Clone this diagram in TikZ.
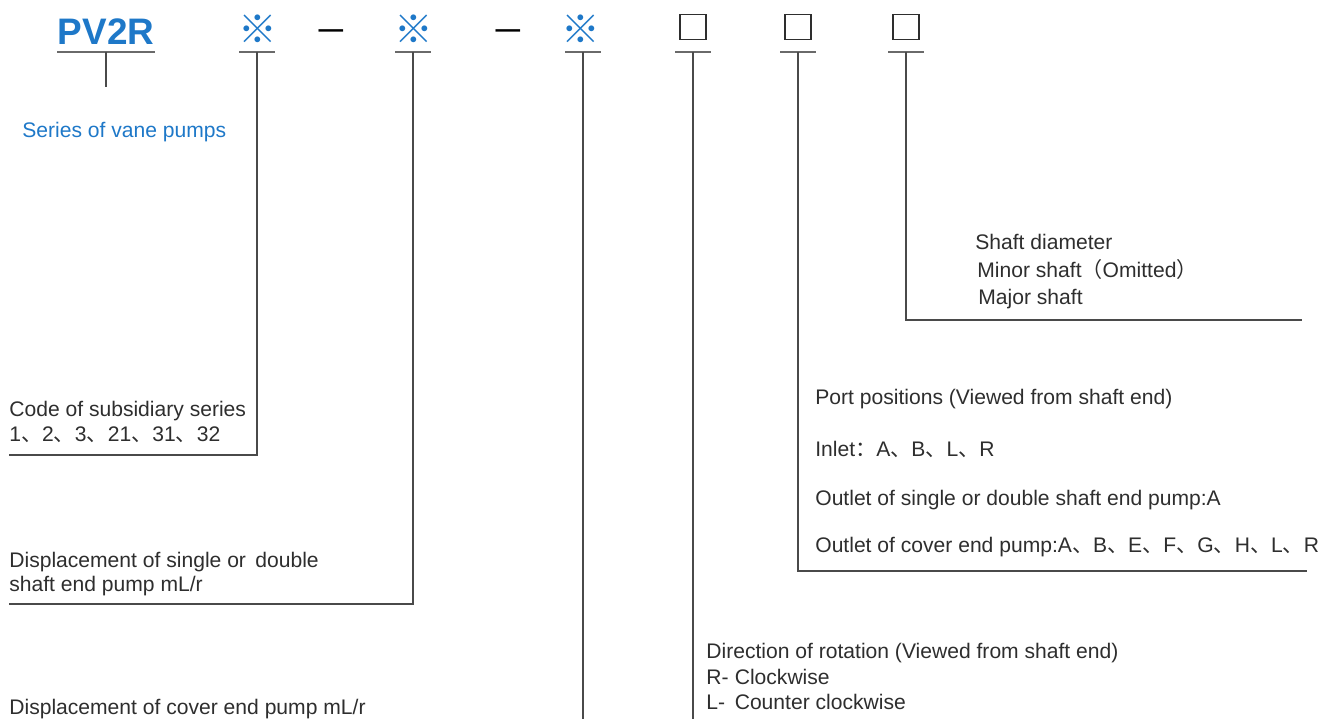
\documentclass[tikz,border=0pt]{standalone}
\usepackage{fontspec}
\setmainfont{Liberation Sans}
\newfontfamily\cjkfont{Noto Sans CJK SC}
\usetikzlibrary{positioning,calc}
\definecolor{pvBlue}{HTML}{1E78C8}
\definecolor{pvText}{HTML}{2E2E2E}
\definecolor{pvLine}{HTML}{4A4A4A}
\definecolor{pvBar}{HTML}{6A6A6A}
\newcommand{\dun}{{\cjkfont 、}}

\begin{document}
\begin{tikzpicture}[x=0.02cm, y=-0.02cm,
  codetxt/.style={inner sep=0pt, text=pvBlue},
  slotbox/.style={draw=pvText, line width=0.9pt, minimum width=0.53cm,
    minimum height=0.5cm, inner sep=0pt},
  codebar/.style={pvBar, line width=1.5pt},
  leader/.style={pvLine, line width=0.9pt},
  txt/.style={anchor=base west, inner sep=0pt, text=pvText,
    font=\fontsize{12}{14}\selectfont},
  bluetxt/.style={txt, text=pvBlue}]

\useasboundingbox (0,0) rectangle (1340,719);

% --- MODEL CODE ---
\node[codetxt, font=\fontsize{21}{24}\selectfont\bfseries] (pv) at (106,32) {PV2R};
\node[codetxt, font=\cjkfont\fontsize{22}{24}\selectfont] (subs) at (258,29) {※};
\node[codetxt, font=\cjkfont\fontsize{22}{24}\selectfont] (dispA) at (414,29) {※};
\node[codetxt, font=\cjkfont\fontsize{22}{24}\selectfont] (dispB) at (581,29) {※};
\node[inner sep=0pt, text=black, font=\fontsize{14}{16}\selectfont\bfseries] (dashA) at (331,34) {—};
\node[inner sep=0pt, text=black, font=\fontsize{14}{16}\selectfont\bfseries] (dashB) at (508,34) {—};
\node[slotbox] (rot) at (693,27) {};
\node[slotbox] (port) at (798,27) {};
\node[slotbox] (shaft) at (906,27) {};

% --- BARS UNDER EACH FIELD ---
\foreach \n/\xc/\hw in {pv/106/49, subs/257/18, dispA/413/18, dispB/583/18,
                       rot/693/18, port/798/18, shaft/906/18} {
  \draw[codebar] (\xc-\hw,52) -- (\xc+\hw,52);
  \coordinate (\n-bar) at (\xc,52);
}

% --- LEADER ENDS ---
\coordinate (pv-end) at (106,87);
\coordinate (subs-end) at (9,455);
\coordinate (dispA-end) at (9,604);
\coordinate (dispB-end) at (583,719);
\coordinate (rot-end) at (693,719);
\coordinate (port-end) at (1307,571);
\coordinate (shaft-end) at (1302,320);

\draw[leader] (pv-bar) -- (pv-end);
\draw[leader] (subs-bar) |- (subs-end);
\draw[leader] (dispA-bar) |- (dispA-end);
\draw[leader] (dispB-bar) -- (dispB-end);
\draw[leader] (rot-bar) -- (rot-end);
\draw[leader] (port-bar) |- (port-end);
\draw[leader] (shaft-bar) |- (shaft-end);

% --- LABELS ---
\node[bluetxt] (seriesLbl) at (22,138) {Series of vane pumps};

\node[txt] (subsLbl) at (9,417) {Code of subsidiary series};
\node[txt] (subsVal) at (9,442) {1\dun2\dun3\dun21\dun31\dun32};

\node[txt] (dispALbl) at (9,568) {Displacement of single or\ \,double};
\node[txt] (dispAVal) at (9,592) {shaft end pump mL/r};

\node[txt] (dispBLbl) at (9,714) {Displacement of cover end pump mL/r};

\node[txt] (rotLbl) at (706,659) {Direction of rotation (Viewed from shaft end)};
\node[txt] (rotR) at (706,684) {\makebox[1.35em][l]{R-}Clockwise};
\node[txt] (rotL) at (706,709) {\makebox[1.35em][l]{L-}Counter clockwise};

\node[txt] (portLbl) at (815,405) {Port positions (Viewed from shaft end)};
\node[txt] (portIn) at (815,457) {Inlet{\cjkfont ：}A\dun B\dun L\dun R};
\node[txt] (portOutA) at (815,506) {Outlet of single or double shaft end pump:A};
\node[txt] (portOutB) at (815,553) {Outlet of cover end pump:A\dun B\dun E\dun F\dun G\dun H\dun L\dun R};

\node[txt] (shaftLbl) at (975,250) {Shaft diameter};
\node[txt] (shaftMin) at (977,278) {Minor shaft{\cjkfont （}Omitted{\cjkfont ）}};
\node[txt] (shaftMaj) at (978,305) {Major shaft};

\end{tikzpicture}
\end{document}
